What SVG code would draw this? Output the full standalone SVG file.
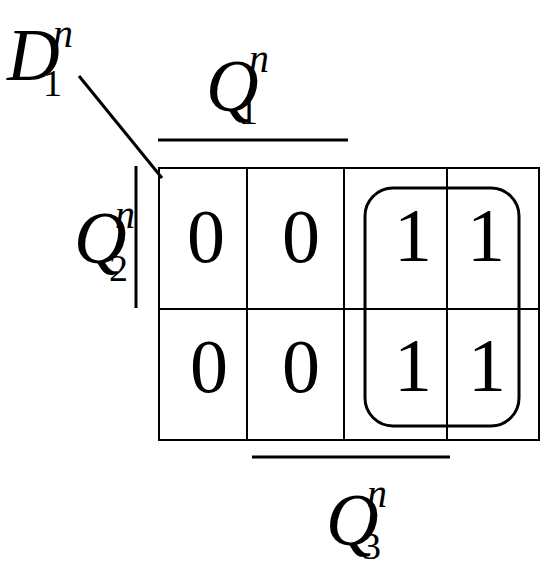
<svg xmlns="http://www.w3.org/2000/svg" width="544" height="576" viewBox="0 0 544 576">
<style>
.v{font-family:"Liberation Serif","Times New Roman",serif;fill:#000}
.d{font-size:76px;text-anchor:middle}
.it{font-style:italic}
.big{font-size:73px}
.sup{font-size:40px;font-style:italic}
.sub{font-size:38px}
.g{stroke:#000;stroke-width:2;fill:none}
.t{stroke:#000;stroke-width:3;fill:none}
</style>
<rect width="544" height="576" fill="#fff"/>
<g id="grid">
<rect class="g" x="159" y="168" width="380" height="272" fill="#fdfdfd"/>
<line class="g" x1="247" y1="168" x2="247" y2="440"/>
<line class="g" x1="344" y1="168" x2="344" y2="440"/>
<line class="g" x1="447" y1="168" x2="447" y2="440"/>
<line class="g" x1="159" y1="309" x2="539" y2="309"/>
</g>
<g id="cells" class="v d">
<text x="206" y="262">0</text>
<text x="301" y="262">0</text>
<text x="413" y="261">1</text>
<text x="486" y="261">1</text>
<text x="209" y="392">0</text>
<text x="301" y="392">0</text>
<text x="413" y="391">1</text>
<text x="487" y="391">1</text>
</g>
<g id="group">
<rect class="t" x="365" y="188" width="154" height="238" rx="28" ry="28"/>
</g>
<g id="connectors">
<line class="t" x1="158" y1="140" x2="348" y2="140"/>
<line class="t" x1="136" y1="166" x2="136" y2="308"/>
<line class="t" x1="252" y1="457" x2="450" y2="457"/>
<line class="t" x1="79" y1="76" x2="162" y2="178"/>
</g>
<g id="D1" class="v">
<text class="it big" x="7" y="80">D</text>
<text class="sup" x="53" y="47">n</text>
<text class="sub" x="43" y="96">1</text>
</g>
<g id="Q1" class="v">
<text class="it big" x="206" y="111">Q</text>
<text class="sup" x="249" y="72">n</text>
<text class="sub" x="239" y="124">1</text>
</g>
<g id="Q2" class="v">
<text class="it big" x="74" y="263">Q</text>
<text class="sup" x="115" y="228">n</text>
<text class="sub" x="109" y="281">2</text>
</g>
<g id="Q3" class="v">
<text class="it big" x="326" y="545">Q</text>
<text class="sup" x="367" y="507">n</text>
<text class="sub" x="362" y="559">3</text>
</g>
</svg>
